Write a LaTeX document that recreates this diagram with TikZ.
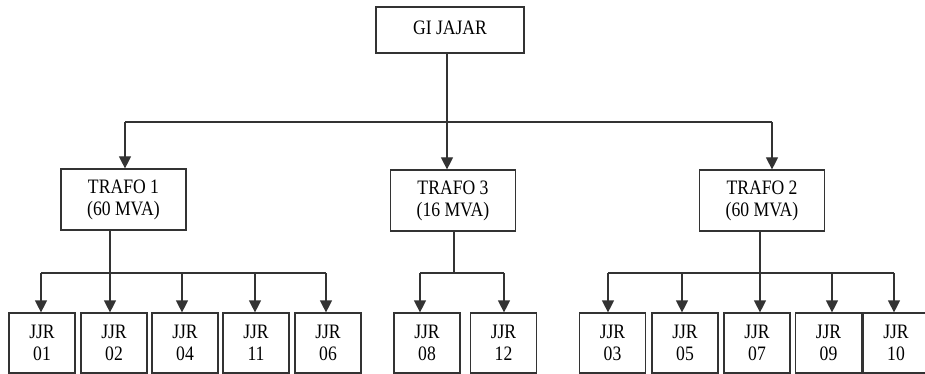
\documentclass[tikz,border=0pt]{standalone}
\usepackage{fontspec}
\setmainfont{Liberation Serif}
\newfontfamily\labelfont[FakeStretch=0.86]{Liberation Serif}
\usetikzlibrary{arrows.meta}
\begin{document}
\begin{tikzpicture}[x=1pt,y=-1pt,
  line width=1.2pt,
  every node/.style={font=\labelfont\fontsize{20.5}{22}\selectfont, align=center, inner sep=0pt},
  box/.style={draw=black!80, rectangle, line width=1.2pt},
  topbox/.style={box, minimum width=148pt, minimum height=46pt},
  trafobox/.style={box, minimum width=125pt, minimum height=61pt},
  feeder/.style={box, minimum width=66pt, minimum height=60pt},
  wire/.style={draw=black!80},
  arr/.style={draw=black!80, -{Triangle[width=12pt,length=12pt]}}
]
\useasboundingbox (0,0) rectangle (925,374);

% source substation
\node[topbox] (gi) at (450,30) {\raisebox{4pt}{GI JAJAR}};

% transformers
\node[trafobox] (t1) at (123.5,199.5) {TRAFO 1\\(60 MVA)};
\node[trafobox] (t3) at (453,200.5) {TRAFO 3\\(16 MVA)};
\node[trafobox] (t2) at (762,200.5) {TRAFO 2\\(60 MVA)};

% feeders
\node[feeder] (j01) at (42,343) {JJR\\01};
\node[feeder] (j02) at (114,343) {JJR\\02};
\node[feeder] (j04) at (185,343) {JJR\\04};
\node[feeder] (j11) at (256,343) {JJR\\11};
\node[feeder] (j06) at (328,343) {JJR\\06};
\node[feeder] (j08) at (427,343) {JJR\\08};
\node[feeder] (j12) at (503.5,343) {JJR\\12};
\node[feeder] (j03) at (612.5,343) {JJR\\03};
\node[feeder] (j05) at (685,343) {JJR\\05};
\node[feeder] (j07) at (757,343) {JJR\\07};
\node[feeder] (j09) at (828.5,343) {JJR\\09};
\node[feeder] (j10) at (896,343) {JJR\\10};

% main bus below the substation
\coordinate (busA) at (447,122);
\coordinate (busL) at (125,122);
\coordinate (busR) at (772,122);
\draw[wire] (gi.south -| busA) -- (busA);
\draw[wire] (busL) -- (busR);
\draw[arr] (busL) -- (busL |- t1.north);
\draw[arr] (busA) -- (busA |- t3.north);
\draw[arr] (busR) -- (busR |- t2.north);

% TRAFO 1 distribution
\coordinate (s1) at (110,273);
\coordinate (a01) at (41,273);
\coordinate (a04) at (182,273);
\coordinate (a11) at (255,273);
\coordinate (a06) at (326,273);
\draw[wire] (t1.south -| s1) -- (s1);
\draw[wire] (a01) -- (a06);
\draw[arr] (a01) -- (a01 |- j01.north);
\draw[arr] (s1) -- (s1 |- j02.north);
\draw[arr] (a04) -- (a04 |- j04.north);
\draw[arr] (a11) -- (a11 |- j11.north);
\draw[arr] (a06) -- (a06 |- j06.north);

% TRAFO 3 distribution
\coordinate (s3) at (454,273);
\coordinate (a08) at (420,273);
\coordinate (a12) at (504,273);
\draw[wire] (t3.south -| s3) -- (s3);
\draw[wire] (a08) -- (a12);
\draw[arr] (a08) -- (a08 |- j08.north);
\draw[arr] (a12) -- (a12 |- j12.north);

% TRAFO 2 distribution
\coordinate (s2) at (760,273);
\coordinate (a03) at (608,273);
\coordinate (a05) at (682,273);
\coordinate (a09) at (832,273);
\coordinate (a10) at (894,273);
\draw[wire] (t2.south -| s2) -- (s2);
\draw[wire] (a03) -- (a10);
\draw[arr] (a03) -- (a03 |- j03.north);
\draw[arr] (a05) -- (a05 |- j05.north);
\draw[arr] (s2) -- (s2 |- j07.north);
\draw[arr] (a09) -- (a09 |- j09.north);
\draw[arr] (a10) -- (a10 |- j10.north);
\end{tikzpicture}
\end{document}
